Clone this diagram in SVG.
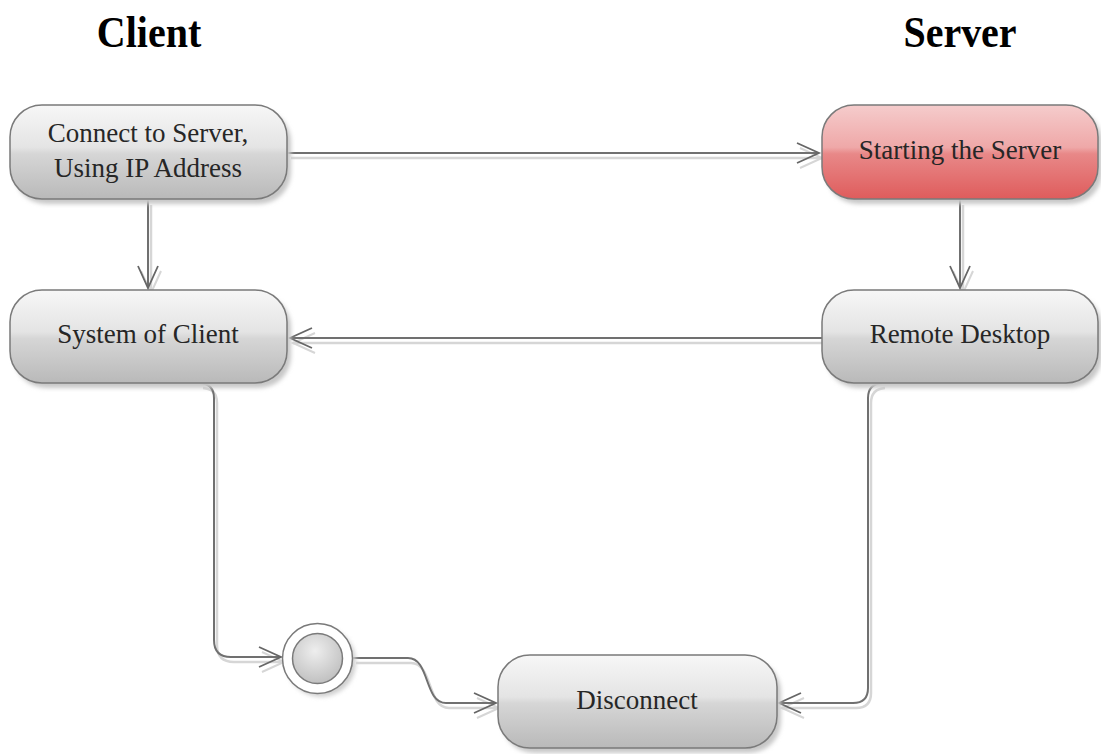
<svg xmlns="http://www.w3.org/2000/svg" width="1101" height="754" viewBox="0 0 1101 754">
  <style>
    .title { font-family: "Liberation Serif", "Times New Roman", serif; font-weight: bold; font-size: 40px; fill: #000; text-anchor: middle; }
    .label { font-family: "Liberation Serif", "Times New Roman", serif; font-size: 27px; fill: #262626; text-anchor: middle; }
    .node { stroke: #7a7a7a; stroke-width: 1.5; }
    .gray { fill: url(#grayFill); }
    .red { fill: url(#redFill); }
    .shadow { fill: #c8c8c8; filter: url(#soft); }
    .edge { fill: none; stroke: #707070; stroke-width: 2; }
    .edge-shadow { fill: none; stroke: #d6d6d6; stroke-width: 2.5; }
  </style>
  <defs>
    <linearGradient id="grayFill" x1="0" y1="0" x2="0" y2="1">
      <stop offset="0" stop-color="#f7f7f7"/>
      <stop offset="0.45" stop-color="#e4e4e4"/>
      <stop offset="0.52" stop-color="#d6d6d6"/>
      <stop offset="1" stop-color="#b9b9b9"/>
    </linearGradient>
    <linearGradient id="redFill" x1="0" y1="0" x2="0" y2="1">
      <stop offset="0" stop-color="#f5cccc"/>
      <stop offset="0.45" stop-color="#efa8a8"/>
      <stop offset="0.52" stop-color="#e88888"/>
      <stop offset="1" stop-color="#df5c5c"/>
    </linearGradient>
    <radialGradient id="dotFill" cx="0.45" cy="0.35" r="0.7">
      <stop offset="0" stop-color="#eeeeee"/>
      <stop offset="1" stop-color="#bdbdbd"/>
    </radialGradient>
    <filter id="soft" x="-10%" y="-20%" width="120%" height="140%">
      <feGaussianBlur stdDeviation="2"/>
    </filter>
    <marker id="open" markerUnits="userSpaceOnUse" markerWidth="30" markerHeight="30" viewBox="-26 -13 30 26" refX="0" refY="0" orient="auto">
      <path d="M -22,-10 L 0,0 L -22,10" fill="none" stroke="#666" stroke-width="1.8"/>
    </marker>
    <marker id="openShadow" markerUnits="userSpaceOnUse" markerWidth="30" markerHeight="30" viewBox="-26 -13 30 26" refX="0" refY="0" orient="auto">
      <path d="M -22,-10 L 0,0 L -22,10" fill="none" stroke="#d6d6d6" stroke-width="2"/>
    </marker>
  </defs>

  <rect width="1101" height="754" fill="#fff"/>

  <!-- swimlane headings -->
  <text class="title" transform="translate(149,47) scale(1,1.1)">Client</text>
  <text class="title" transform="translate(960,47) scale(1,1.1)">Server</text>

  <!-- connectors -->
  <g id="connectors">
    <g transform="translate(3,5)">
      <path class="edge-shadow" d="M 288 153 H 819" marker-end="url(#openShadow)"/>
      <path class="edge-shadow" d="M 148 200 V 288" marker-end="url(#openShadow)"/>
      <path class="edge-shadow" d="M 960 200 V 288" marker-end="url(#openShadow)"/>
      <path class="edge-shadow" d="M 822 338 H 290" marker-end="url(#openShadow)"/>
      <path class="edge-shadow" d="M 200 383 Q 214 384 214 398 V 640 Q 214 657 231 657 H 281" marker-end="url(#openShadow)"/>
      <path class="edge-shadow" d="M 353 658 H 408 C 430 658 424 703 446 703 H 496" marker-end="url(#openShadow)"/>
      <path class="edge-shadow" d="M 882 383 Q 868 384 868 398 V 688 Q 868 703 853 703 H 779" marker-end="url(#openShadow)"/>
    </g>
    <path class="edge" d="M 288 153 H 819" marker-end="url(#open)"/>
    <path class="edge" d="M 148 200 V 288" marker-end="url(#open)"/>
    <path class="edge" d="M 960 200 V 288" marker-end="url(#open)"/>
    <path class="edge" d="M 822 338 H 290" marker-end="url(#open)"/>
    <path class="edge" d="M 200 383 Q 214 384 214 398 V 640 Q 214 657 231 657 H 281" marker-end="url(#open)"/>
    <path class="edge" d="M 353 658 H 408 C 430 658 424 703 446 703 H 496" marker-end="url(#open)"/>
    <path class="edge" d="M 882 383 Q 868 384 868 398 V 688 Q 868 703 853 703 H 779" marker-end="url(#open)"/>
  </g>

  <g id="connect">
    <rect class="shadow" x="14" y="110" width="277" height="94" rx="32"/>
    <rect class="node gray" x="10" y="105" width="277" height="94" rx="32"/>
    <text class="label" x="148" y="142">Connect to Server,</text>
    <text class="label" x="148" y="177">Using IP Address</text>
  </g>

  <g id="start-server">
    <rect class="shadow" x="826" y="110" width="276" height="94" rx="32"/>
    <rect class="node red" x="822" y="105" width="276" height="94" rx="32"/>
    <text class="label" x="960" y="159">Starting the Server</text>
  </g>

  <g id="client-system">
    <rect class="shadow" x="14" y="295" width="277" height="93" rx="32"/>
    <rect class="node gray" x="10" y="290" width="277" height="93" rx="32"/>
    <text class="label" x="148" y="343">System of Client</text>
  </g>

  <g id="remote-desktop">
    <rect class="shadow" x="826" y="295" width="276" height="93" rx="32"/>
    <rect class="node gray" x="822" y="290" width="276" height="93" rx="32"/>
    <text class="label" x="960" y="343">Remote Desktop</text>
  </g>

  <g id="disconnect">
    <rect class="shadow" x="502" y="660" width="279" height="93" rx="32"/>
    <rect class="node gray" x="498" y="655" width="279" height="93" rx="32"/>
    <text class="label" x="637" y="709">Disconnect</text>
  </g>

  <g id="final">
    <circle cx="321" cy="662" r="35" fill="#d0d0d0" filter="url(#soft)"/>
    <circle cx="317.5" cy="658.5" r="35" fill="#fff" stroke="#7a7a7a" stroke-width="1.5"/>
    <circle cx="317.5" cy="658.5" r="25" fill="url(#dotFill)" stroke="#7a7a7a" stroke-width="1.5"/>
  </g>
</svg>
